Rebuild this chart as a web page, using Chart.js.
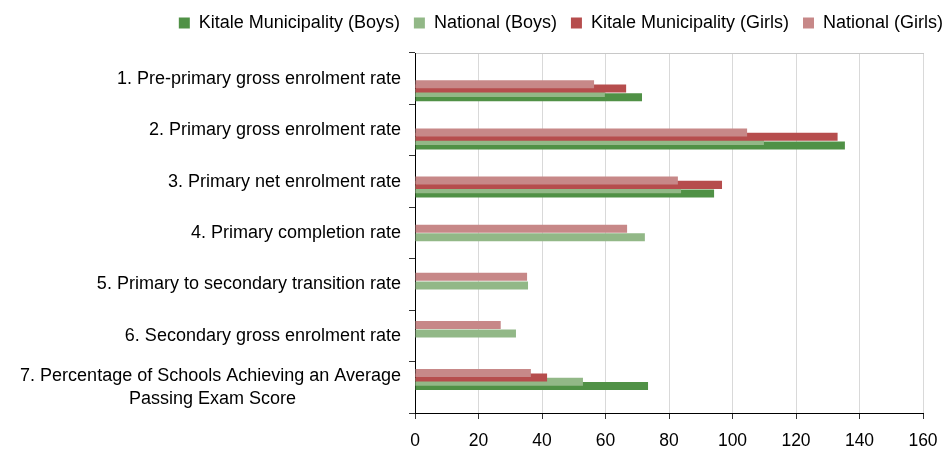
<!DOCTYPE html>
<html lang="en">
<head>
    <meta charset="UTF-8">
    <title>Education indicators</title>
    <script src="https://cdn.jsdelivr.net/npm/chart.js"></script>
    <style>
        body { margin: 0; background: #fff; }
    </style>
</head>
<body>
    <div style="width: 947px; height: 450px">
        <canvas id="myChart"></canvas>
    </div>

    <script>
        // categories (last one split in two lines, second line padded so it looks centred)
        var categories = [
            '1. Pre-primary gross enrolment rate',
            '2. Primary gross enrolment rate',
            '3. Primary net enrolment rate',
            '4. Primary completion rate',
            '5. Primary to secondary transition rate',
            '6. Secondary gross enrolment rate',
            ['7. Percentage of Schools Achieving an Average', 'Passing Exam Score' + ' '.repeat(21)]
        ];

        // series values (null = no Kitale figure)
        var kitaleBoys    = [71.5, 135.4, 94.2, null, null, null, 73.4];
        var nationalBoys  = [59.8, 109.9, 83.8, 72.4, 35.6, 31.8, 52.9];
        var kitaleGirls   = [66.5, 133.1, 96.7, null, null, null, 41.6];
        var nationalGirls = [56.4, 104.6, 82.8, 66.8, 35.3, 27.0, 36.5];

        var xTicks = [0, 20, 40, 60, 80, 100, 120, 140, 160];

        // bars sit on a hidden numeric axis: category n -> position n
        function toPoints(values) {
            return values.map(function (v, i) { return { x: v, y: i + 1 }; });
        }

        var font = 'Liberation Sans, Arial, sans-serif';

        // array order = top to bottom inside a group (legend reversed below)
        var data = {
            datasets: [
                { label: 'National (Girls)', data: toPoints(nationalGirls), backgroundColor: '#c78888' },
                { label: 'Kitale Municipality (Girls)', data: toPoints(kitaleGirls), backgroundColor: '#b64d4d' },
                { label: 'National (Boys)', data: toPoints(nationalBoys), backgroundColor: '#92b887' },
                { label: 'Kitale Municipality (Boys)', data: toPoints(kitaleBoys), backgroundColor: '#509146' }
            ]
        };

        var config = {
            type: 'bar',
            data: data,
            options: {
                indexAxis: 'y',
                responsive: true,
                maintainAspectRatio: false,
                animation: false,
                categoryPercentage: 0.36,
                barPercentage: 1.85,
                layout: { padding: { top: 0, right: -10, left: 0, bottom: 0 } },
                plugins: {
                    tooltip: { enabled: false },
                    legend: {
                        position: 'top',
                        align: 'end',
                        reverse: true,
                        labels: {
                            boxWidth: 11,
                            boxHeight: 11,
                            padding: 14,
                            color: '#000',
                            font: { family: font, size: 18 }
                        }
                    }
                },
                scales: {
                    x: {
                        type: 'linear',
                        min: 0,
                        max: 160,
                        afterBuildTicks: function (axis) {
                            axis.ticks = xTicks.map(function (v) { return { value: v }; });
                        },
                        afterFit: function (axis) {
                            axis.paddingRight = 24;
                            axis.height = 37;
                        },
                        grid: { color: '#d9d9d9', tickColor: '#333', tickLength: 6 },
                        border: { color: '#000' },
                        ticks: { color: '#000', padding: 12, font: { family: font, size: 17.5 } }
                    },
                    // only draws the thin line along the top of the plot
                    xTop: {
                        type: 'linear',
                        axis: 'x',
                        position: 'top',
                        afterFit: function (axis) {
                            axis.height = 11;
                        },
                        grid: { display: false },
                        ticks: { display: false },
                        border: { color: '#c8c8c8' }
                    },
                    // hidden axis carrying the bars
                    y: {
                        type: 'linear',
                        reverse: true,
                        offset: false,
                        min: 0.215,
                        max: 7.695,
                        afterBuildTicks: function (axis) {
                            axis.ticks = categories.map(function (c, i) { return { value: i + 1 }; });
                        },
                        display: false
                    },
                    // visible axis with the category labels
                    cats: {
                        type: 'category',
                        axis: 'y',
                        position: 'left',
                        labels: categories,
                        offset: true,
                        afterFit: function (axis) {
                            axis.width = 415;
                        },
                        grid: { offset: true, drawOnChartArea: false, tickLength: 6, tickColor: '#333' },
                        border: { color: '#000' },
                        ticks: {
                            color: '#000',
                            padding: 8,
                            autoSkip: false,
                            font: { family: font, size: 18, lineHeight: 1.27 }
                        }
                    }
                }
            }
        };

        var ctx = document.getElementById('myChart').getContext('2d');
        var chart = new Chart(ctx, config);
    </script>
</body>
</html>
